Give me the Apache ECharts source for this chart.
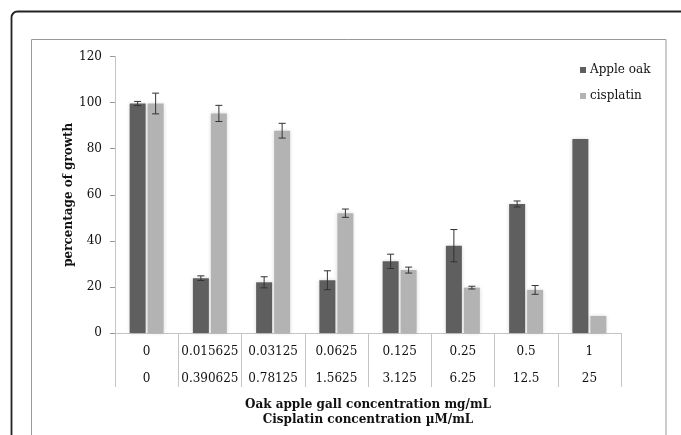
<!DOCTYPE html>
<html><head><meta charset="utf-8">
<script src="https://cdn.jsdelivr.net/npm/echarts@6/dist/echarts.min.js"></script>
<style>html,body{margin:0;padding:0;background:#fff}#c{width:681px;height:435px}</style>
</head><body><div id="c"></div>
<script>
const oakConc = ['0','0.015625','0.03125','0.0625','0.125','0.25','0.5','1'];
const cisConc = ['0','0.390625','0.78125','1.5625','3.125','6.25','12.5','25'];
const appleOak = [99.6, 23.8, 22.0, 22.9, 31.1, 37.9, 56.0, 84.2];
const appleOakErr = [0.9, 1.0, 2.4, 4.1, 3.1, 7.0, 1.3, 0];
const cisplatin = [99.6, 95.3, 87.8, 52.0, 27.3, 19.7, 18.7, 7.4];
const cisplatinErr = [4.5, 3.5, 3.2, 1.8, 1.3, 0.6, 1.9, 0];
const yTicks = [0, 20, 40, 60, 80, 100, 120];

const categories = oakConc.map((v, i) => v + '\n' + cisConc[i]);
const FONT = 'DejaVu Serif';
const BAR_W = 16, GAP_PX = 2;

function errSeries(name, vals, errs, sign) {
  return {
    type: 'custom', name: name + ' err', silent: true, z: 5,
    data: vals.map((v, i) => [i, v, errs[i]]),
    renderItem: function (params, api) {
      const e = api.value(2);
      if (!e) return null;
      const i = api.value(0), v = api.value(1);
      const off = sign * (BAR_W + GAP_PX) / 2;
      const hi = api.coord([i, v + e]), lo = api.coord([i, v - e]);
      const x = hi[0] + off, cap = 3.5;
      const st = { stroke: '#333', lineWidth: 1 };
      return { type: 'group', children: [
        { type: 'line', shape: { x1: x, y1: hi[1], x2: x, y2: lo[1] }, style: st },
        { type: 'line', shape: { x1: x - cap, y1: hi[1], x2: x + cap, y2: hi[1] }, style: st },
        { type: 'line', shape: { x1: x - cap, y1: lo[1], x2: x + cap, y2: lo[1] }, style: st }
      ]};
    }
  };
}

const chart = echarts.init(document.getElementById('c'));
chart.setOption({
  animation: false,
  textStyle: { fontFamily: FONT },
  graphic: [
    { type: 'rect', shape: { x: 11.5, y: 11.5, width: 720, height: 500, r: 6 }, style: { fill: 'none', stroke: '#222', lineWidth: 1.8 }, z: -10 },
    { type: 'rect', shape: { x: 31.5, y: 39.5, width: 634.5, height: 500 }, style: { fill: 'none', stroke: '#999', lineWidth: 1 }, z: -10 }
  ],
  legend: {
    orient: 'vertical', left: 580, top: 64, itemGap: 14, padding: 0,
    icon: 'rect', itemWidth: 6, itemHeight: 6,
    textStyle: { fontFamily: FONT, fontSize: 12, color: '#111', padding: [0, 0, 0, -1] },
    data: ['Apple oak', 'cisplatin']
  },
  grid: { left: 115, right: 60, top: 56.5, bottom: 102, containLabel: false },
  xAxis: {
    type: 'category', data: categories,
    axisLine: { lineStyle: { color: '#c4c4c4' } },
    axisTick: { show: true, length: 54, interval: 0, lineStyle: { color: '#c4c4c4' } },
    axisLabel: { interval: 0, margin: 5, lineHeight: 27, fontSize: 12, color: '#111', fontFamily: FONT },
    name: 'Oak apple gall concentration mg/mL\nCisplatin concentration µM/mL',
    nameLocation: 'middle', nameGap: 64, nameMoveOverlap: false,
    nameTextStyle: { fontFamily: FONT, fontWeight: 'bold', fontSize: 12, lineHeight: 15, color: '#111' }
  },
  yAxis: {
    type: 'value', min: yTicks[0], max: yTicks[yTicks.length - 1], interval: yTicks[1] - yTicks[0],
    axisLine: { show: true, lineStyle: { color: '#c4c4c4' } },
    axisTick: { show: true, length: 5, lineStyle: { color: '#999' } },
    splitLine: { show: false },
    axisLabel: { margin: 13, fontSize: 12, color: '#111', fontFamily: FONT },
    name: 'percentage of growth', nameLocation: 'middle', nameGap: 40, nameMoveOverlap: false,
    nameTextStyle: { fontFamily: FONT, fontWeight: 'bold', fontSize: 12, color: '#111' }
  },
  series: [
    { name: 'Apple oak', type: 'bar', data: appleOak, barWidth: BAR_W, barGap: (GAP_PX / BAR_W * 100) + '%',
      itemStyle: { color: '#5f5f5f', shadowBlur: 4, shadowColor: 'rgba(0,0,0,0.15)' } },
    { name: 'cisplatin', type: 'bar', data: cisplatin, barWidth: BAR_W,
      itemStyle: { color: '#b3b3b3', shadowBlur: 4, shadowColor: 'rgba(0,0,0,0.15)' } },
    errSeries('Apple oak', appleOak, appleOakErr, -1),
    errSeries('cisplatin', cisplatin, cisplatinErr, 1)
  ]
});
</script></body></html>
